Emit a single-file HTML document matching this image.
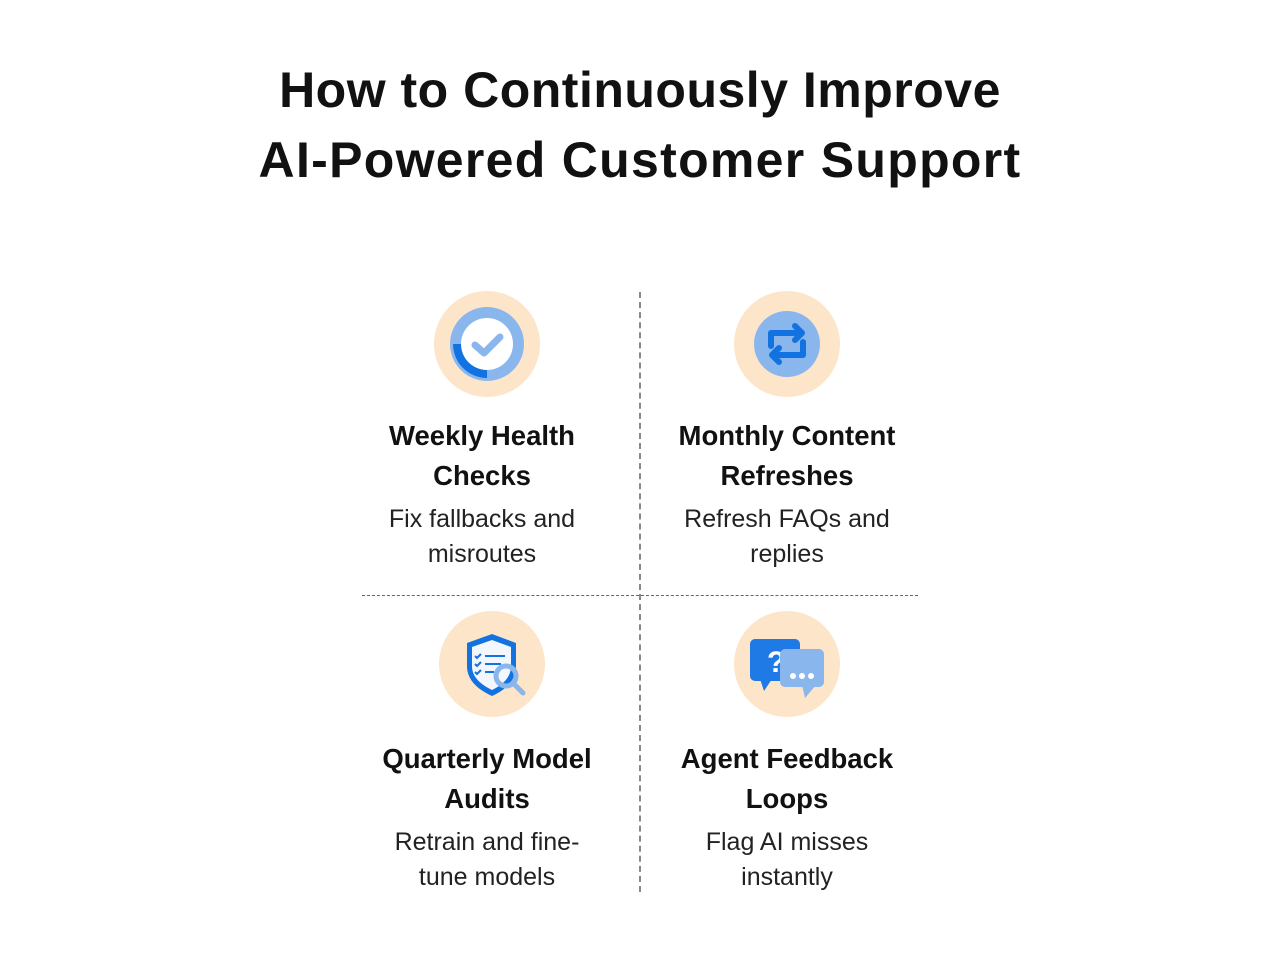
<!DOCTYPE html>
<html><head><style>
body{margin:0;width:1280px;height:960px;background:#fff;font-family:"Liberation Sans",sans-serif;color:#111;position:relative;overflow:hidden}
.t{position:absolute;left:0;width:1280px;text-align:center;font-weight:bold;font-size:50px;letter-spacing:0.5px}
.c{position:absolute;width:300px;text-align:center}
.h{font-weight:bold;font-size:27.5px;line-height:40px}
.b{font-size:25px;line-height:35px;color:#222;margin-top:6px}
.circ{position:absolute;width:106px;height:106px;border-radius:50%;background:#fde5c9}
</style></head><body>
<div class="t" style="top:61px">How to Continuously Improve</div>
<div class="t" style="top:131px;letter-spacing:1.3px">AI-Powered Customer Support</div>
<div style="position:absolute;left:639px;top:292px;height:600px;border-left:2px dashed #888"></div>
<div style="position:absolute;left:362px;top:595px;width:556px;border-top:1px dashed #666"></div>

<div class="circ" style="left:434px;top:291px"></div>
<svg style="position:absolute;left:434px;top:291px" width="106" height="106" viewBox="0 0 106 106">
<circle cx="53" cy="53" r="37" fill="#8ab6ee"/>
<path d="M19 53 A34 34 0 0 0 53 87 L53 78 A25 25 0 0 1 28 53Z" fill="#1273e0"/>
<circle cx="53" cy="53" r="26" fill="#fff"/>
<path d="M41 54 L50 62 L66 46" stroke="#8ab6ee" stroke-width="7" fill="none" stroke-linecap="round" stroke-linejoin="round"/>
</svg>

<div class="circ" style="left:734px;top:291px"></div>
<svg style="position:absolute;left:734px;top:291px" width="106" height="106" viewBox="0 0 106 106">
<circle cx="53" cy="53" r="33" fill="#8ab6ee"/>
<path d="M37 55 V42 H68 M61 35 L68 42 L61 49" stroke="#1273e0" stroke-width="6" fill="none" stroke-linecap="round" stroke-linejoin="round"/>
<path d="M69 51 V64 H38 M45 57 L38 64 L45 71" stroke="#1273e0" stroke-width="6" fill="none" stroke-linecap="round" stroke-linejoin="round"/>
</svg>

<div class="circ" style="left:439px;top:611px"></div>
<svg style="position:absolute;left:439px;top:611px" width="106" height="106" viewBox="0 0 106 106">
<path d="M53 23 L77 32 V55 C77 70 66 79 53 85 C40 79 28 70 28 55 V32Z" fill="#1273e0"/>
<path d="M53 29 L72 36 V55 C72 67 63 74 53 79 C43 74 33 67 33 55 V36Z" fill="#f2f7fe"/>
<g stroke="#1273e0" stroke-width="2" fill="none"><path d="M36 45 l2 2 l4 -4 M36 53 l2 2 l4 -4 M36 61 l2 2 l4 -4"/><path d="M46 45 H66 M46 53 H62 M46 61 H55"/></g>
<circle cx="67" cy="65" r="10" fill="none" stroke="#8ab6ee" stroke-width="5"/>
<path d="M74 72 L84 82" stroke="#8ab6ee" stroke-width="5" stroke-linecap="round"/>
</svg>

<div class="circ" style="left:734px;top:611px"></div>
<svg style="position:absolute;left:734px;top:611px" width="106" height="106" viewBox="0 0 106 106">
<rect x="16" y="28" width="50" height="42" rx="5" fill="#1f7ae6"/>
<path d="M26 68 L38 68 L30 80Z" fill="#1f7ae6"/>
<text x="33" y="61" font-family="Liberation Sans" font-weight="bold" font-size="30" fill="#fff">?</text>
<rect x="46" y="38" width="44" height="38" rx="5" fill="#8ab6ee"/>
<path d="M68 74 L82 74 L71 87Z" fill="#8ab6ee"/>
<circle cx="59" cy="65" r="3" fill="#fff"/><circle cx="68" cy="65" r="3" fill="#fff"/><circle cx="77" cy="65" r="3" fill="#fff"/>
</svg>

<div class="c" style="left:332px;top:416px"><div class="h">Weekly Health<br>Checks</div><div class="b">Fix fallbacks and<br>misroutes</div></div>
<div class="c" style="left:637px;top:416px"><div class="h">Monthly Content<br>Refreshes</div><div class="b">Refresh FAQs and<br>replies</div></div>
<div class="c" style="left:337px;top:739px"><div class="h">Quarterly Model<br>Audits</div><div class="b">Retrain and fine-<br>tune models</div></div>
<div class="c" style="left:637px;top:739px"><div class="h">Agent Feedback<br>Loops</div><div class="b">Flag AI misses<br>instantly</div></div>
</body></html>
